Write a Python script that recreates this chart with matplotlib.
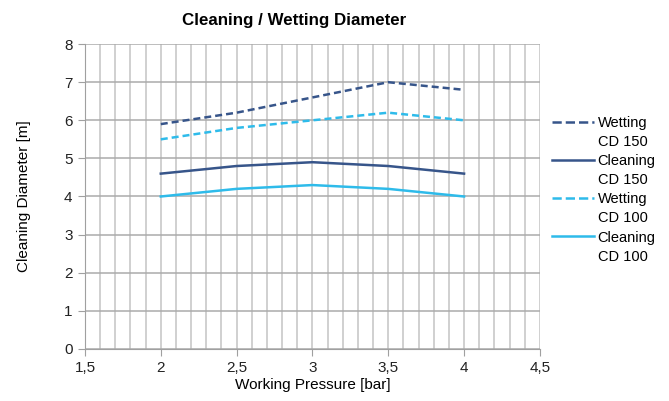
import matplotlib
matplotlib.use("Agg")
import matplotlib.pyplot as plt
from matplotlib.lines import Line2D
from matplotlib.ticker import MultipleLocator, FuncFormatter

pressure = [2, 2.5, 3, 3.5, 4]
wetting_cd150 = [5.9, 6.2, 6.6, 7.0, 6.8]
cleaning_cd150 = [4.6, 4.8, 4.9, 4.8, 4.6]
wetting_cd100 = [5.5, 5.8, 6.0, 6.2, 6.0]
cleaning_cd100 = [4.0, 4.2, 4.3, 4.2, 4.0]
series_names = ["Wetting", "Cleaning", "Wetting", "Cleaning"]
series_models = ["CD 150", "CD 150", "CD 100", "CD 100"]

dark = "#37558A"
light = "#2EBBEA"

plt.rcParams['font.family'] = ['Liberation Sans', 'DejaVu Sans']
fig = plt.figure(figsize=(6.69, 4.01), dpi=100)
ax = fig.add_axes([0.127, 0.130, 0.680, 0.760])

dash = (0, (2.8, 1.6))
lines = []
lines += ax.plot(pressure, wetting_cd150, color=dark, lw=1.8, ls=dash)
lines += ax.plot(pressure, cleaning_cd150, color=dark, lw=1.8)
lines += ax.plot(pressure, wetting_cd100, color=light, lw=1.8, ls=dash)
lines += ax.plot(pressure, cleaning_cd100, color=light, lw=1.8)

ax.set_xlim(1.5, 4.5)
ax.set_ylim(0, 8)
ax.xaxis.set_major_locator(MultipleLocator(0.5))
ax.xaxis.set_minor_locator(MultipleLocator(0.1))
ax.yaxis.set_major_locator(MultipleLocator(1))
ax.xaxis.set_major_formatter(FuncFormatter(lambda v, p: ("%g" % v).replace(".", ",")))
ax.grid(which='both', axis='x', color='#C4C4C4', lw=1.1)
ax.grid(which='major', axis='y', color='#ABABAB', lw=1.1)
ax.set_axisbelow(True)
for s in ['top', 'right']:
    ax.spines[s].set_visible(False)
ax.spines['left'].set_color('#A0A0A0')
ax.spines['bottom'].set_color('#A0A0A0')
ax.tick_params(which='both', length=0, labelsize=11, colors='#222222', pad=7)
ax.tick_params(axis='x', which='major', length=5, color='#A0A0A0', pad=4)
ax.tick_params(axis='y', which='major', length=5, color='#A0A0A0', pad=4)

ax.set_xlabel("Working Pressure [bar]", fontsize=11, labelpad=2)
ax.set_ylabel("Cleaning Diameter [m]", fontsize=11, labelpad=24)
fig.text(294/669, 1 - 21/401, "Cleaning / Wetting Diameter", ha='center', va='center',
         fontsize=12.2, fontweight='bold')

handles, labels = [], []
for ln, name, model in zip(lines, series_names, series_models):
    handles.append(Line2D([], [], color=ln.get_color(), lw=ln.get_linewidth(), ls=ln.get_linestyle()))
    labels.append(name)
    handles.append(Line2D([], [], color='none'))
    labels.append(model)
leg = ax.legend(handles, labels, loc='center left', bbox_to_anchor=(0.997, 0.522), frameon=False,
                fontsize=10.5, handlelength=2.9, handletextpad=0.25, labelspacing=0.35)

fig.savefig("out.png", dpi=100)
